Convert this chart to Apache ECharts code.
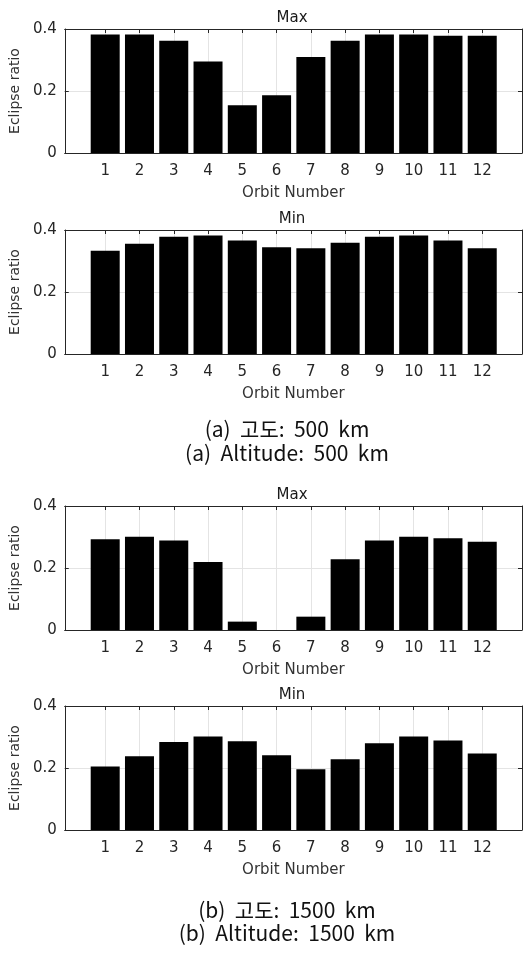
<!DOCTYPE html>
<html>
<head>
<meta charset="utf-8">
<script src="https://cdn.jsdelivr.net/npm/echarts@6/dist/echarts.min.js"></script>
<style>
  html, body { margin: 0; padding: 0; background: #fff; }
  #chart { width: 523px; height: 954px; }
</style>
</head>
<body>
<div id="chart"></div>
<script>
const orbits = [1, 2, 3, 4, 5, 6, 7, 8, 9, 10, 11, 12];
const max500 = [0.382, 0.382, 0.362, 0.295, 0.154, 0.186, 0.310, 0.362, 0.382, 0.382, 0.378, 0.378];
const min500 = [0.333, 0.356, 0.378, 0.382, 0.366, 0.344, 0.341, 0.359, 0.378, 0.382, 0.366, 0.341];
const max1500 = [0.293, 0.301, 0.289, 0.219, 0.027, 0, 0.043, 0.228, 0.289, 0.301, 0.296, 0.285];
const min1500 = [0.205, 0.238, 0.284, 0.302, 0.286, 0.241, 0.196, 0.228, 0.280, 0.302, 0.289, 0.247];

const panels = [
  { title: 'Max', data: max500, top: 29 },
  { title: 'Min', data: min500, top: 230 },
  { title: 'Max', data: max1500, top: 506 },
  { title: 'Min', data: min1500, top: 706 }
];
const captions = [
  { text: '(a)  고도:  500  km', y: 429 },
  { text: '(a)  Altitude:  500  km', y: 453 },
  { text: '(b)  고도:  1500  km', y: 910 },
  { text: '(b)  Altitude:  1500  km', y: 933 }
];

const axisColor = '#262626'
const gridColor = '#e4e4e4'
const latin = 'DejaVu Sans'
const plotH = 124

const chart = echarts.init(document.getElementById('chart'))

const grid = []
const xAxis = []
const yAxis = []
const series = []
const graphic = []

panels.forEach((p, i) => {
  grid.push({ left: 61, width: 461, top: p.top, height: plotH })

  xAxis.push({
    type: 'value',
    gridIndex: i,
    min: -0.18,
    max: 13.16,
    axisLine: { show: true, onZero: false, lineStyle: { color: axisColor } },
    axisTick: { show: false, customValues: orbits },
    axisLabel: {
      customValues: orbits,
      color: axisColor,
      fontFamily: latin,
      fontSize: 15,
      margin: 11
    },
    splitLine: { show: true, lineStyle: { color: gridColor } },
    name: 'Orbit Number',
    nameLocation: 'middle',
    nameGap: 33,
    nameTextStyle: { color: '#333', fontFamily: latin, fontSize: 15 }
  })
  xAxis.push({
    type: 'value',
    gridIndex: i,
    position: 'top',
    min: -0.18,
    max: 13.16,
    axisLine: { show: true, onZero: false, lineStyle: { color: axisColor } },
    axisTick: { show: true, inside: true, length: 4, customValues: orbits, lineStyle: { color: axisColor } },
    axisLabel: { show: false },
    splitLine: { show: false }
  })

  yAxis.push({
    type: 'value',
    gridIndex: i,
    min: 0,
    max: 0.4,
    interval: 0.2,
    axisLine: { show: true, onZero: false, lineStyle: { color: axisColor } },
    axisTick: { show: true, inside: true, length: 4, lineStyle: { color: axisColor } },
    axisLabel: { color: axisColor, fontFamily: latin, fontSize: 15, margin: 8 },
    splitLine: { show: true, lineStyle: { color: gridColor } },
    name: 'Eclipse ratio',
    nameLocation: 'middle',
    nameGap: 38,
    nameTextStyle: { color: '#333', fontFamily: latin, fontSize: 14 }
  })
  yAxis.push({
    type: 'value',
    gridIndex: i,
    position: 'right',
    min: 0,
    max: 0.4,
    interval: 0.2,
    axisLine: { show: true, onZero: false, lineStyle: { color: axisColor } },
    axisTick: { show: true, inside: true, length: 4, lineStyle: { color: axisColor } },
    axisLabel: { show: false },
    splitLine: { show: false }
  })

  series.push({
    type: 'bar',
    xAxisIndex: i * 2,
    yAxisIndex: i * 2,
    data: orbits.map((o, j) => [o, p.data[j]]),
    barWidth: 29,
    itemStyle: { color: '#000' },
    silent: true
  })

  graphic.push({
    type: 'text',
    x: 292,
    y: p.top - 11,
    style: {
      text: p.title,
      fill: '#1a1a1a',
      font: '15px "DejaVu Sans"',
      align: 'center',
      verticalAlign: 'middle'
    }
  })
})

captions.forEach(c => {
  graphic.push({
    type: 'text',
    x: 287,
    y: c.y,
    style: {
      text: c.text,
      fill: '#111',
      font: '21px "Noto Sans CJK KR"',
      align: 'center',
      verticalAlign: 'middle'
    }
  })
})

chart.setOption({
  backgroundColor: '#fff',
  animation: false,
  grid,
  xAxis,
  yAxis,
  series,
  graphic
})
</script>
</body>
</html>
